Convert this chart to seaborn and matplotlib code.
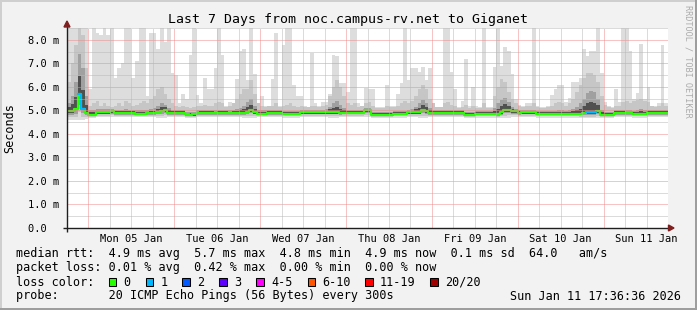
import numpy as np
import matplotlib
matplotlib.use("Agg")
import matplotlib.pyplot as plt
import seaborn as sns
from matplotlib.patches import Rectangle, Polygon

# ---------------- data (hourly bins starting Sun 04 Jan 18:00) ----------------
title = "Last 7 Days from noc.campus-rv.net to Giganet"
day_labels = ["Mon 05 Jan", "Tue 06 Jan", "Wed 07 Jan", "Thu 08 Jan",
              "Fri 09 Jan", "Sat 10 Jan", "Sun 11 Jan"]
y_tick_labels = ["0.0  ", "1.0 m", "2.0 m", "3.0 m", "4.0 m",
                 "5.0 m", "6.0 m", "7.0 m", "8.0 m"]

# median rtt (ms)
med = [4.96, 4.96, 5.06, 5.70, 5.07, 4.89, 4.82, 4.82, 4.92, 4.92,
       4.92, 4.92, 4.96, 4.89, 4.89, 4.89, 4.89, 4.89, 4.89, 4.87,
       4.87, 4.87, 4.88, 4.88, 4.88, 4.93, 4.97, 5.00, 4.90, 4.90,
       4.89, 4.89, 4.89, 4.84, 4.82, 4.83, 4.88, 4.89, 4.90, 4.89,
       4.89, 4.88, 4.89, 4.90, 4.89, 4.88, 4.89, 4.89, 4.90, 4.91,
       4.93, 5.00, 4.92, 4.87, 4.87, 4.87, 4.89, 4.89, 4.89, 4.89,
       4.85, 4.85, 4.85, 4.85, 4.85, 4.92, 4.92, 4.92, 4.92, 4.92,
       4.92, 4.92, 4.92, 4.92, 4.92, 4.92, 4.88, 4.91, 4.91, 4.91,
       4.91, 4.91, 4.91, 5.00, 5.00, 4.82, 4.82, 4.82, 4.82, 4.82,
       4.82, 4.85, 4.85, 4.85, 4.85, 4.92, 4.92, 4.92, 4.92, 5.03,
       4.96, 4.89, 4.89, 4.89, 4.89, 4.89, 4.89, 4.89, 4.89, 4.89,
       4.89, 4.82, 4.82, 4.82, 4.85, 4.85, 4.85, 4.85, 4.85, 4.85,
       4.85, 4.92, 5.00, 5.00, 4.96, 4.96, 4.90, 4.92, 4.92, 4.92,
       4.92, 4.86, 4.86, 4.86, 4.86, 4.86, 4.87, 4.87, 4.87, 4.87,
       4.87, 4.87, 4.87, 4.87, 4.90, 4.92, 4.92, 4.92, 4.96, 4.82,
       4.82, 4.82, 4.82, 4.89, 4.89, 4.89, 4.88, 4.88, 4.85, 4.85,
       4.85, 4.85, 4.90, 4.90, 4.90, 4.90, 4.90, 4.90]

# maximum ping (top of the light smoke)
top = [8.6, 8.6, 8.6, 8.6, 8.6, 8.6, 5.9, 8.6, 8.3, 8.2,
       8.6, 8.2, 8.6, 6.4, 6.8, 7.0, 8.6, 8.6, 6.4, 7.1,
       8.6, 8.6, 5.6, 8.3, 8.3, 7.6, 8.6, 7.9, 8.6, 6.6,
       6.5, 5.3, 5.7, 5.5, 7.35, 8.6, 5.65, 5.3, 6.4, 5.9,
       5.9, 6.8, 8.6, 7.35, 5.2, 5.35, 5.3, 6.35, 7.55, 7.6,
       6.3, 8.6, 6.55, 5.3, 5.6, 5.2, 5.2, 6.35, 8.3, 5.2,
       7.8, 8.6, 8.6, 6.1, 5.6, 5.6, 5.2, 5.15, 7.45, 5.3,
       5.2, 5.35, 5.35, 5.7, 7.35, 7.3, 6.15, 6.15, 5.8, 8.6,
       8.6, 5.3, 5.2, 5.95, 5.9, 5.9, 5.15, 5.15, 5.15, 6.1,
       5.2, 5.2, 5.7, 6.15, 8.6, 6.3, 6.8, 6.8, 6.65, 6.85,
       6.3, 6.8, 5.3, 5.15, 5.15, 8.6, 8.6, 6.65, 5.9, 5.15,
       5.4, 7.2, 5.2, 6.0, 5.2, 5.15, 8.6, 5.15, 5.15, 6.85,
       8.6, 6.9, 7.7, 7.55, 6.55, 5.5, 5.25, 5.2, 5.3, 5.3,
       8.6, 5.2, 5.15, 5.15, 5.2, 5.65, 5.9, 6.1, 6.1, 5.35,
       5.55, 6.2, 6.2, 6.4, 7.6, 7.3, 7.55, 7.55, 8.6, 6.6,
       5.35, 5.2, 5.15, 5.9, 5.35, 8.6, 8.6, 7.55, 5.5, 5.75,
       7.85, 5.5, 6.0, 5.2, 5.2, 5.3, 7.8, 5.3]

# upper edge of the medium smoke
upper = [6.2, 7.0, 7.8, 8.6, 8.2, 6.8, 5.2, 5.3, 5.4, 5.2,
         5.3, 5.2, 5.15, 5.2, 5.3, 5.2, 5.4, 5.3, 5.2, 5.25,
         5.3, 5.4, 5.3, 5.5, 5.6, 5.9, 6.0, 5.7, 5.5, 5.3,
         5.2, 5.15, 5.2, 5.15, 5.1, 5.15, 5.2, 5.2, 5.25, 5.2,
         5.2, 5.3, 5.35, 5.3, 5.15, 5.2, 5.3, 5.5, 5.7, 5.9,
         5.9, 6.3, 5.7, 5.3, 5.2, 5.15, 5.2, 5.2, 5.3, 5.15,
         5.2, 5.25, 5.3, 5.2, 5.15, 5.2, 5.15, 5.15, 5.2, 5.2,
         5.15, 5.2, 5.25, 5.6, 6.0, 6.3, 6.0, 5.6, 5.3, 5.25,
         5.3, 5.15, 5.2, 5.3, 5.35, 5.2, 5.1, 5.1, 5.1, 5.2,
         5.15, 5.15, 5.2, 5.3, 5.4, 5.3, 5.4, 5.6, 5.9, 6.1,
         5.9, 5.5, 5.3, 5.15, 5.15, 5.3, 5.35, 5.25, 5.2, 5.1,
         5.15, 5.25, 5.1, 5.2, 5.1, 5.1, 5.3, 5.1, 5.1, 5.6,
         6.0, 6.35, 6.2, 5.8, 5.5, 5.3, 5.2, 5.15, 5.2, 5.2,
         5.3, 5.15, 5.1, 5.1, 5.15, 5.2, 5.3, 5.35, 5.3, 5.2,
         5.3, 5.5, 5.8, 6.1, 6.4, 6.6, 6.6, 6.5, 6.2, 5.6,
         5.25, 5.15, 5.1, 5.2, 5.2, 5.35, 5.4, 5.3, 5.4, 5.45,
         5.5, 5.4, 5.35, 5.2, 5.15, 5.2, 5.3, 5.2]

# upper edge of the dark smoke core
core = [5.3, 5.6, 6.2, 7.4, 6.8, 5.6, 5.0, 5.0, 5.05, 5.05,
        5.05, 5.05, 5.05, 5.0, 5.0, 5.0, 5.05, 5.0, 5.0, 5.0,
        5.0, 5.0, 5.0, 5.05, 5.1, 5.2, 5.3, 5.25, 5.1, 5.0,
        5.0, 5.0, 5.0, 4.95, 4.95, 4.95, 5.0, 5.0, 5.0, 5.0,
        5.0, 5.0, 5.0, 5.0, 5.0, 5.0, 5.0, 5.05, 5.1, 5.2,
        5.35, 5.5, 5.2, 5.0, 5.0, 5.0, 5.0, 5.0, 5.0, 5.0,
        4.97, 4.97, 4.97, 4.97, 4.97, 5.03, 5.03, 5.03, 5.03, 5.03,
        5.03, 5.03, 5.05, 5.15, 5.3, 5.4, 5.25, 5.1, 5.03, 5.03,
        5.03, 5.03, 5.03, 5.1, 5.1, 4.95, 4.95, 4.95, 4.95, 4.95,
        4.95, 4.97, 4.97, 4.97, 4.97, 5.03, 5.05, 5.15, 5.3, 5.45,
        5.3, 5.1, 5.0, 5.0, 5.0, 5.0, 5.0, 5.0, 5.0, 5.0,
        5.0, 4.95, 4.95, 4.95, 4.97, 4.97, 4.97, 4.97, 4.97, 5.1,
        5.3, 5.45, 5.55, 5.35, 5.15, 5.07, 5.02, 5.03, 5.03, 5.03,
        5.03, 4.98, 4.98, 4.98, 4.98, 4.98, 4.98, 5.0, 5.0, 4.98,
        5.0, 5.05, 5.15, 5.3, 5.5, 5.75, 5.85, 5.8, 5.5, 5.0,
        4.95, 4.95, 4.95, 5.0, 5.0, 5.0, 5.0, 5.0, 4.98, 5.0,
        5.05, 5.0, 5.02, 5.02, 5.02, 5.02, 5.02, 5.02]

# minimum ping (bottom of the smoke)
low = [4.60, 4.60, 4.58, 4.58, 4.60, 4.64, 4.68, 4.70, 4.72, 4.72,
       4.72, 4.72, 4.72, 4.72, 4.72, 4.72, 4.72, 4.72, 4.72, 4.72,
       4.72, 4.72, 4.72, 4.72, 4.72, 4.70, 4.70, 4.70, 4.72, 4.72,
       4.72, 4.72, 4.72, 4.70, 4.70, 4.70, 4.72, 4.72, 4.72, 4.72,
       4.72, 4.72, 4.72, 4.72, 4.72, 4.72, 4.72, 4.72, 4.72, 4.70,
       4.68, 4.68, 4.70, 4.72, 4.72, 4.72, 4.72, 4.72, 4.72, 4.72,
       4.70, 4.70, 4.70, 4.70, 4.70, 4.72, 4.72, 4.72, 4.72, 4.72,
       4.72, 4.72, 4.72, 4.70, 4.70, 4.70, 4.72, 4.72, 4.72, 4.72,
       4.72, 4.72, 4.72, 4.72, 4.72, 4.70, 4.70, 4.70, 4.70, 4.70,
       4.70, 4.70, 4.70, 4.70, 4.70, 4.72, 4.72, 4.72, 4.70, 4.68,
       4.70, 4.72, 4.72, 4.72, 4.72, 4.72, 4.72, 4.72, 4.72, 4.72,
       4.72, 4.70, 4.70, 4.70, 4.70, 4.70, 4.70, 4.70, 4.70, 4.70,
       4.68, 4.68, 4.68, 4.70, 4.72, 4.72, 4.72, 4.72, 4.72, 4.72,
       4.72, 4.70, 4.70, 4.70, 4.70, 4.70, 4.70, 4.70, 4.70, 4.70,
       4.70, 4.70, 4.70, 4.68, 4.66, 4.66, 4.66, 4.66, 4.68, 4.70,
       4.70, 4.70, 4.70, 4.72, 4.72, 4.72, 4.72, 4.72, 4.70, 4.70,
       4.70, 4.70, 4.72, 4.72, 4.72, 4.72, 4.72, 4.72]

# hours with packet loss (number of lost pings)
lost_pings = {3: 1, 4: 1, 145: 1, 146: 1, 147: 1}

loss_labels = ["0", "1", "2", "3", "4-5", "6-10", "11-19", "20/20"]
loss_colors = ["#26ff00", "#00b8ff", "#0059ff", "#5e00ff",
               "#ff00ff", "#ff5500", "#ff0000", "#a10000"]
rtt_stats = ["4.9 ms avg", "5.7 ms max", "4.8 ms min", "4.9 ms now",
             "0.1 ms sd", "64.0   am/s"]
loss_stats = ["0.01 % avg", "0.42 % max", "0.00 % min", "0.00 % now"]
probe_text = "20 ICMP Echo Pings (56 Bytes) every 300s"
stamp_text = "Sun Jan 11 17:36:36 2026"

# ---------------- style ----------------
sns.set_theme(style="white")
plt.rcParams["font.family"] = ["DejaVu Sans Mono"]
plt.rcParams["text.color"] = "black"
plt.rcParams["lines.scale_dashes"] = False

W, H = 697, 310
fig = plt.figure(figsize=(W / 100, H / 100), dpi=100, facecolor="#F2F2F2")
ax = fig.add_axes([67 / W, 82 / H, 601 / W, 200 / H])
ax.set_facecolor("white")

N = len(med)
YMAX = 8.51
px_h = 601 / N       # px per hour
px_y = 200 / YMAX    # px per ms

med_a = np.array(med)
top_a = np.array(top)
low_a = np.array(low)
upper_a = np.minimum(np.array(upper), top_a)
core_a = np.minimum(np.array(core), upper_a)
edges = np.arange(N + 1)


def ext(a):
    return np.append(a, a[-1])


layers = [
    (low_a, top_a, "#DDDDDD"),
    (low_a + 0.3 * (med_a - low_a), upper_a, "#C6C6C6"),
    (low_a + 0.6 * (med_a - low_a), core_a, "#A0A0A0"),
    (med_a - 0.05, med_a + 0.45 * (core_a - med_a) + 0.02, "#505050"),
]
for lo, hi, col in layers:
    ax.fill_between(edges, ext(lo), ext(hi), step="post", color=col,
                    linewidth=0, zorder=1)

# median line, coloured by packet loss
loss = np.array([lost_pings.get(i, 0) for i in range(N)])


def loss_idx(n):
    if n <= 3:
        return n
    if n <= 5:
        return 4
    if n <= 10:
        return 5
    if n <= 19:
        return 6
    return 7


xs = np.repeat(edges, 2)[1:-1]
ys = np.repeat(med_a, 2)
sns.lineplot(x=xs, y=ys, sort=False, estimator=None, color=loss_colors[0],
             linewidth=1.55, ax=ax, zorder=3)
i = 0
while i < N:
    if loss[i] > 0:
        j = i
        while j + 1 < N and loss[j + 1] == loss[i]:
            j += 1
        sx = np.repeat(np.arange(i, j + 2), 2)[1:-1]
        sy = np.repeat(med_a[i:j + 1], 2)
        sns.lineplot(x=sx, y=sy, sort=False, estimator=None,
                     color=loss_colors[loss_idx(loss[i])], linewidth=1.55,
                     ax=ax, zorder=3.5)
        i = j + 1
    else:
        i += 1

# grid (drawn over the data, rrdtool style, dotted 1px on / 1px off)
minor_c = "#B8B8B8"
major_c = "#EE8A8A"
dot = (0, (0.72, 0.72))
for yv in np.arange(0.5, YMAX, 0.5):
    ax.axhline(yv, color=major_c if yv % 1 == 0 else minor_c, lw=0.72,
               ls=dot, zorder=4)
for hv in range(6, N, 6):
    ax.axvline(hv, color=major_c if (hv - 6) % 24 == 0 else minor_c, lw=0.72,
               ls=dot, zorder=4)

ax.set_xlim(0, N)
ax.set_ylim(0, YMAX)
for s in ax.spines.values():
    s.set_visible(False)

# axes lines + arrows
axis_c = "#1F1F1F"
arrow_c = "#801F1F"
ax.plot([-4 / px_h, N + 2 / px_h], [0, 0], color=axis_c, lw=1.0,
        clip_on=False, zorder=6, solid_capstyle="butt")
ax.plot([0, 0], [-4 / px_y, YMAX + 2 / px_y], color=axis_c, lw=1.0,
        clip_on=False, zorder=6, solid_capstyle="butt")
ax.add_patch(Polygon([(N + 0.5 / px_h, 3 / px_y), (N + 0.5 / px_h, -3 / px_y),
                      (N + 6 / px_h, 0)], closed=True, color=arrow_c,
                     clip_on=False, zorder=7))
ax.add_patch(Polygon([(-3 / px_h, YMAX + 1 / px_y), (3 / px_h, YMAX + 1 / px_y),
                      (0, YMAX + 7 / px_y)], closed=True, color=arrow_c,
                     clip_on=False, zorder=7))

# ticks
ax.set_xticks([18 + 24 * k for k in range(len(day_labels))])
ax.set_xticklabels(day_labels)
ax.set_xticks(np.arange(0, N + 1, 6), minor=True)
ax.set_yticks(range(len(y_tick_labels)))
ax.set_yticklabels(y_tick_labels)
ax.set_yticks(np.arange(0.5, YMAX, 0.5), minor=True)
ax.tick_params(axis="x", which="major", length=0, pad=4.0, labelsize=7.45,
               labelcolor="black")
ax.tick_params(axis="x", which="minor", length=2.0, width=0.72, color=axis_c,
               direction="out")
ax.tick_params(axis="y", which="major", length=2.6, width=0.72, color=axis_c,
               direction="out", pad=2.9, labelsize=7.45, labelcolor="black")
ax.tick_params(axis="y", which="minor", length=1.5, width=0.72, color=axis_c,
               direction="out")
ax.set_xlabel("")
ax.set_ylabel("")

# titles
fig.text(0.5, 1 - 19 / H, title, ha="center", va="center", fontsize=9.55)
fig.text(10 / W, 1 - 128 / H, "Seconds", rotation=90, ha="center",
         va="center", fontsize=8.5)
fig.text(688 / W, 1 - 61 / H, "RRDTOOL / TOBI OETIKER", rotation=270,
         ha="center", va="center", fontsize=6.1, color="#ABABAB")

# legend
LX = 16.4 / W
fs = 8.5
fig.text(LX, 1 - 254 / H, "median rtt:  " + "  ".join(rtt_stats),
         ha="left", va="center", fontsize=fs)
fig.text(LX, 1 - 268 / H, "packet loss: " + "  ".join(loss_stats),
         ha="left", va="center", fontsize=fs)
fig.text(LX, 1 - 282 / H, "loss color:", ha="left", va="center", fontsize=fs)
box_x = [108.9, 145.8, 182.2, 219.1, 256.4, 307.6, 365.3, 430.2]
for bx, lab, col in zip(box_x, loss_labels, loss_colors):
    fig.add_artist(Rectangle((bx / W, (H - 286) / H), 7.5 / W, 8 / H,
                             transform=fig.transFigure, facecolor=col,
                             edgecolor="black", linewidth=0.75))
    fig.text((bx + 14.7) / W, 1 - 282 / H, lab, ha="left", va="center",
             fontsize=fs)
fig.text(LX, 1 - 296 / H, "probe:       " + probe_text, ha="left",
         va="center", fontsize=fs)
fig.text(681 / W, 1 - 296 / H, stamp_text, ha="right", va="center",
         fontsize=fs)

# 3D frame
fig.add_artist(Rectangle((0, (H - 2) / H), 1, 2 / H, transform=fig.transFigure,
                         color="#CFCFCF", lw=0))
fig.add_artist(Rectangle((0, 0), 2 / W, 1, transform=fig.transFigure,
                         color="#CFCFCF", lw=0))
fig.add_artist(Rectangle((0, 0), 1, 2 / H, transform=fig.transFigure,
                         color="#9E9E9E", lw=0))
fig.add_artist(Rectangle(((W - 2) / W, 0), 2 / W, 1, transform=fig.transFigure,
                         color="#9E9E9E", lw=0))

fig.savefig("out.png", dpi=100, facecolor=fig.get_facecolor())
